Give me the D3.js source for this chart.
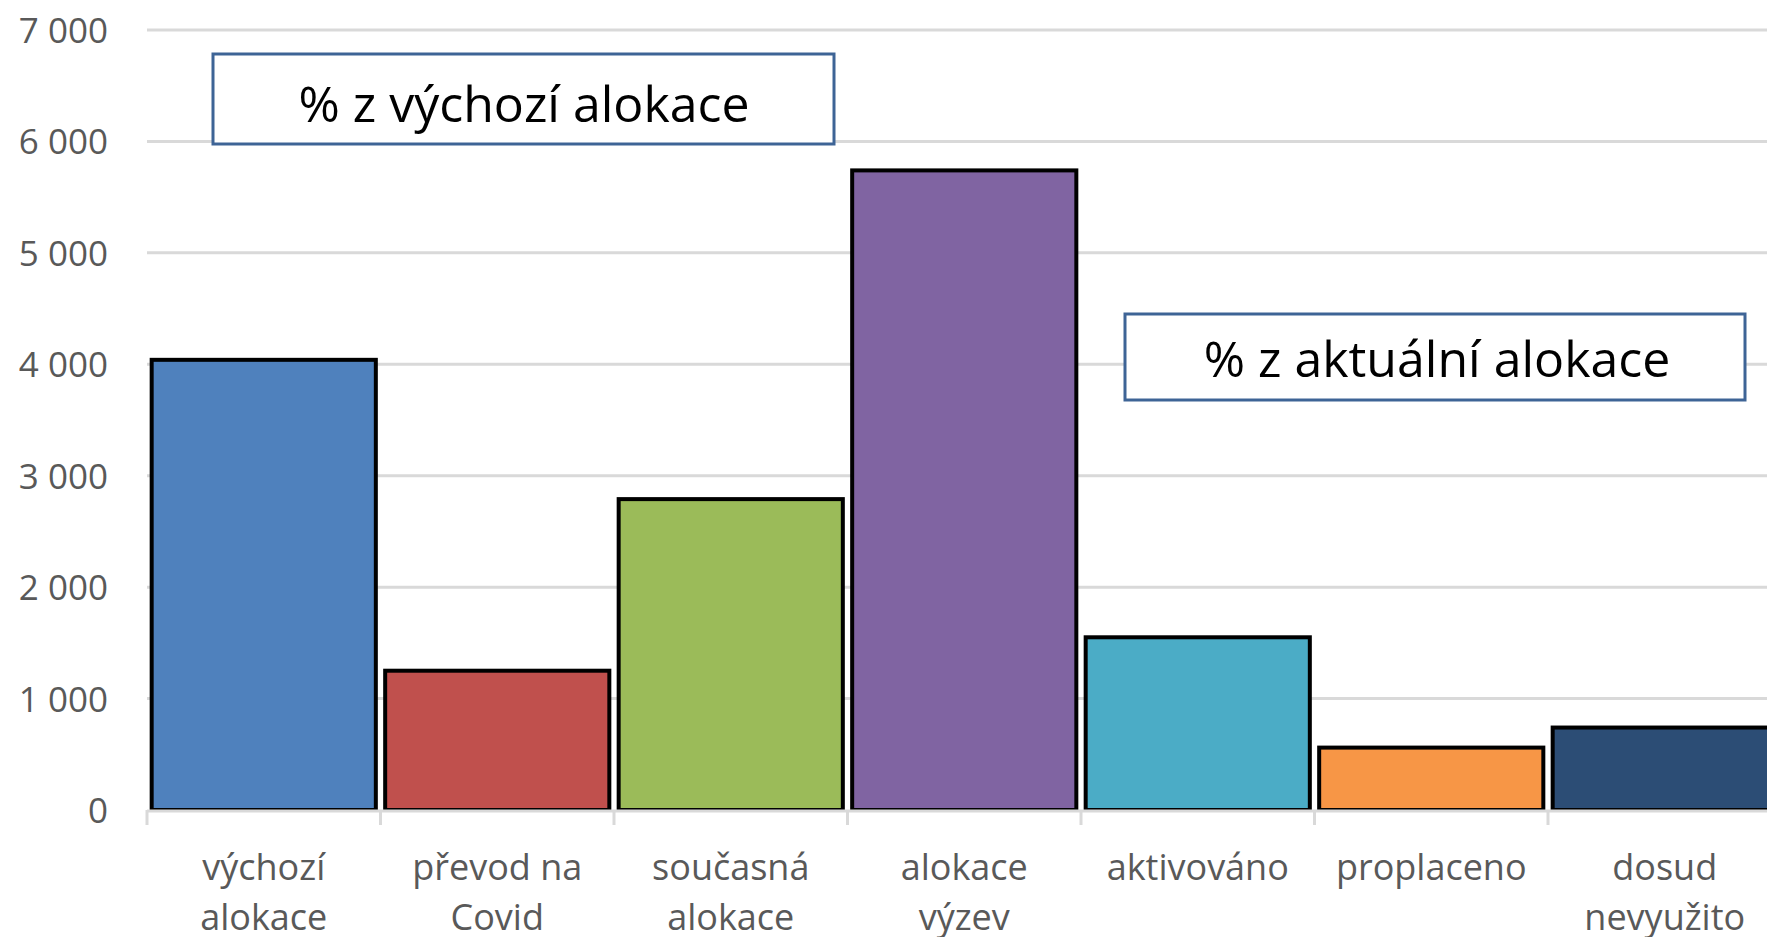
<!DOCTYPE html>
<html>
<head>
<meta charset="utf-8">
<script src="https://cdn.jsdelivr.net/npm/d3@7"></script>
<style>
  body { margin: 0; background: #fff; }
  text { font-family: "Open Sans", "Noto Sans", sans-serif; }
</style>
</head>
<body>
<svg id="chart" width="1767" height="937"></svg>
<script>
// values
var categories = [["výchozí","alokace"],["převod na","Covid"],["současná","alokace"],["alokace","výzev"],["aktivováno"],["proplaceno"],["dosud","nevyužito"]];
var values = [4040, 1250, 2790, 5740, 1550, 560, 740];
var colors = ['#4F81BD','#C0504D','#9BBB59','#8064A2','#4BACC6','#F79646','#2C4D75'];
var yTicks = [0, 1000, 2000, 3000, 4000, 5000, 6000, 7000];
var notes = ['% z výchozí alokace', '% z aktuální alokace'];

var svg = d3.select('#chart');
var plotLeft = 147, plotTop = 30, plotBottom = 810, bandW = 233.5;

var x = d3.scaleBand().domain(d3.range(categories.length))
  .range([plotLeft, plotLeft + bandW * categories.length]).paddingInner(0.04).paddingOuter(0.02);
var y = d3.scaleLinear().domain([0, 7000]).range([plotBottom, plotTop]);

var fmt = d3.formatLocale({decimal: ',', thousands: ' ', grouping: [3], currency: ['', '']}).format(',d');

// gridlines
svg.append('g').selectAll('line').data(yTicks.slice(1)).enter().append('line')
  .attr('x1', plotLeft).attr('x2', 1767)
  .attr('y1', function(d){ return y(d); }).attr('y2', function(d){ return y(d); })
  .attr('stroke', '#d9d9d9').attr('stroke-width', 3);

// y labels
svg.append('g').selectAll('text').data(yTicks).enter().append('text')
  .attr('x', 108).attr('y', function(d){ return y(d) + 13; })
  .attr('text-anchor', 'end').attr('font-size', 35).attr('fill', '#595959')
  .text(function(d){ return fmt(d); });

// bars
svg.append('g').selectAll('rect').data(values).enter().append('rect')
  .attr('x', function(d, i){ return x(i); })
  .attr('y', function(d){ return y(d); })
  .attr('width', x.bandwidth())
  .attr('height', function(d){ return plotBottom - y(d); })
  .attr('fill', function(d, i){ return colors[i]; })
  .attr('stroke', '#000').attr('stroke-width', 4);

// x axis line and ticks
svg.append('line').attr('x1', plotLeft).attr('x2', 1767).attr('y1', plotBottom + 1).attr('y2', plotBottom + 1)
  .attr('stroke', '#d9d9d9').attr('stroke-width', 3);
svg.append('g').selectAll('line').data(d3.range(categories.length + 1)).enter().append('line')
  .attr('x1', function(i){ return plotLeft + i * bandW; }).attr('x2', function(i){ return plotLeft + i * bandW; })
  .attr('y1', plotBottom).attr('y2', plotBottom + 15)
  .attr('stroke', '#d9d9d9').attr('stroke-width', 3);

// x labels
var lab = svg.append('g').selectAll('text').data(categories).enter().append('text')
  .attr('text-anchor', 'middle').attr('font-size', 36).attr('fill', '#595959')
  .attr('transform', function(d, i){ return 'translate(' + (plotLeft + (i + 0.5) * bandW) + ',0)'; });
lab.selectAll('tspan').data(function(d){ return d; }).enter().append('tspan')
  .attr('x', 0).attr('y', function(d, j){ return 880 + j * 50; })
  .text(function(d){ return d; });

// annotation boxes
var boxes = [{x: 213, y: 54, w: 621, h: 90, tx: 524, ty: 122}, {x: 1125, y: 314, w: 620, h: 86, tx: 1437, ty: 377}];
boxes.forEach(function(b, i){
  svg.append('rect').attr('x', b.x).attr('y', b.y).attr('width', b.w).attr('height', b.h)
    .attr('fill', '#fff').attr('stroke', '#3E6496').attr('stroke-width', 3);
  svg.append('text').attr('x', b.tx).attr('y', b.ty).attr('text-anchor', 'middle')
    .attr('font-size', 50).attr('fill', '#000').text(notes[i]);
});
</script>
</body>
</html>
